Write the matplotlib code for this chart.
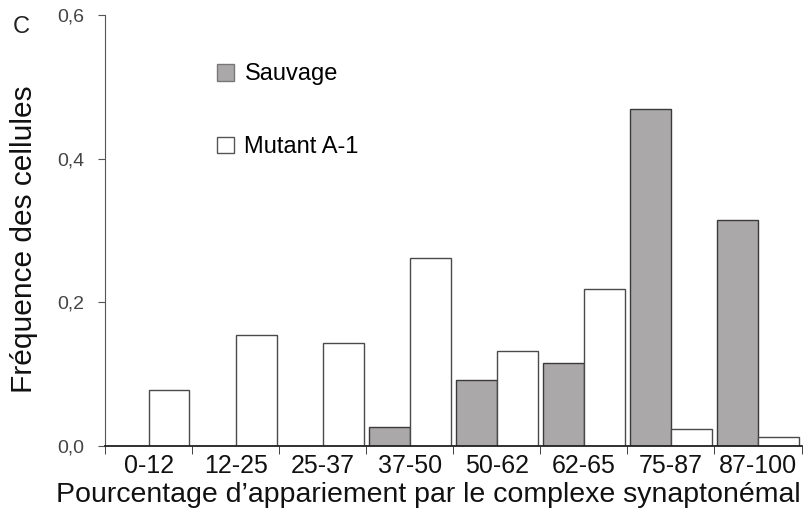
import numpy as np
import matplotlib.pyplot as plt
from matplotlib.patches import Patch

# values
categories = ['0-12', '12-25', '25-37', '37-50', '50-62', '62-65', '75-87', '87-100']
sauvage = [0.0, 0.0, 0.0, 0.026, 0.092, 0.115, 0.469, 0.315]
mutant = [0.077, 0.154, 0.143, 0.261, 0.132, 0.218, 0.023, 0.012]
y_ticks = [0.0, 0.2, 0.4, 0.6]
y_tick_labels = ['0,0', '0,2', '0,4', '0,6']

plt.rcParams['font.family'] = ['Liberation Sans', 'DejaVu Sans']

fig = plt.figure(figsize=(8.08, 5.19), dpi=100)
ax = fig.add_axes([0.130, 0.1416, 0.862, 0.829])

x = np.arange(len(categories))
w = 0.47
ax.bar(x - w / 2, sauvage, w, color='#aaa8a9', edgecolor='#3a3a3a', linewidth=1.0)
ax.bar(x + w / 2, mutant, w, color='white', edgecolor='#4a4a4a', linewidth=1.0)

ax.set_xlim(-0.5, len(categories) - 0.5)
ax.set_ylim(0, 0.6)

ax.spines['top'].set_visible(False)
ax.spines['right'].set_visible(False)
ax.spines['left'].set_color('#555555')
ax.spines['bottom'].set_color('#222222')
ax.spines['bottom'].set_linewidth(1.3)

ax.set_yticks(y_ticks)
ax.set_yticklabels(y_tick_labels, fontsize=14, color='#444444')
ax.tick_params(axis='y', length=5, color='#555555', pad=10)

ax.set_xticks(x)
ax.set_xticklabels(categories, fontsize=18, color='#111111')
ax.set_xticks(np.arange(len(categories) + 1) - 0.5, minor=True)
ax.tick_params(axis='x', which='major', length=0, pad=6)
ax.tick_params(axis='x', which='minor', length=6, color='#222222')

ax.set_ylabel('Fréquence des cellules', fontsize=21.5, color='#111111')
ax.yaxis.set_label_coords(0.047, 0.539, transform=fig.transFigure)
ax.set_xlabel("Pourcentage d\u2019appariement par le complexe synaptonémal",
              fontsize=20.5, color='#111111')
ax.xaxis.set_label_coords(0.530, 0.072, transform=fig.transFigure)

fig.text(0.016, 0.948, 'C', fontsize=17, color='#222222', va='center')

handles = [Patch(facecolor='#aaa8a9', edgecolor='#777777', label='Sauvage'),
           Patch(facecolor='white', edgecolor='#555555', label='Mutant A-1')]
ax.legend(handles=handles, loc='upper left', bbox_to_anchor=(0.147, 0.91),
          frameon=False, fontsize=17, labelspacing=2.15, handlelength=0.72,
          handleheight=0.72, handletextpad=0.45, borderaxespad=0)

fig.savefig('out.png', dpi=100)
